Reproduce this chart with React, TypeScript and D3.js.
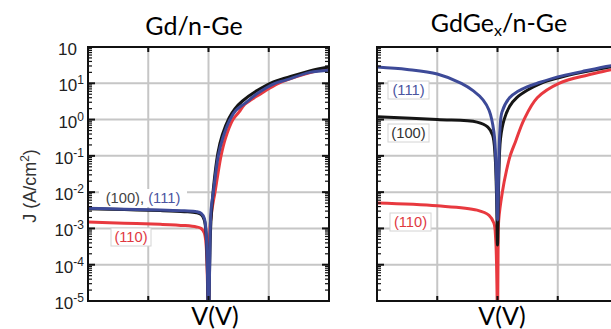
import React from 'react';
import * as d3 from 'd3';

// Left panel: Gd/n-Ge
const gdV111 = [-1, -0.7, -0.4, -0.2, -0.1, -0.06, -0.035, -0.02, -0.01, 0, 0.01, 0.021, 0.04, 0.081, 0.12, 0.178, 0.228, 0.303, 0.411, 0.552, 0.635, 0.84, 1];
const gdJ111 = [3.6e-3, 3.4e-3, 3.2e-3, 3.05e-3, 2.9e-3, 2.6e-3, 1.9e-3, 8e-4, 1e-4, 2e-6, 1e-4, 3.2e-3, 1e-2, 1e-1, 3.2e-1, 1.0, 1.8, 2.8, 5.4, 10, 12, 20, 23];
const gdV100 = [-1, -0.7, -0.4, -0.2, -0.1, -0.06, -0.035, -0.02, -0.01, 0, 0.01, 0.02, 0.04, 0.078, 0.115, 0.17, 0.22, 0.28, 0.4, 0.54, 0.64, 0.84, 1];
const gdJ100 = [3.5e-3, 3.3e-3, 3.1e-3, 2.9e-3, 2.7e-3, 2.4e-3, 1.7e-3, 7e-4, 1e-4, 2e-6, 1.2e-4, 1.5e-3, 1.2e-2, 1.2e-1, 3.8e-1, 1.1, 2.0, 3.2, 6.2, 11, 14, 22, 28];
const gdV110 = [-1, -0.7, -0.4, -0.2, -0.1, -0.06, -0.035, -0.02, -0.01, 0, 0.012, 0.03, 0.054, 0.08, 0.104, 0.14, 0.203, 0.253, 0.3, 0.444, 0.58, 0.8, 1];
const gdJ110 = [1.5e-3, 1.4e-3, 1.3e-3, 1.2e-3, 1.1e-3, 1.0e-3, 7.5e-4, 3.5e-4, 5e-5, 2e-6, 1e-3, 3.5e-3, 1e-2, 3.5e-2, 0.1, 0.3, 1.0, 1.6, 2.6, 5.4, 10, 18, 26];

// Right panel: GdGex/n-Ge
const geV111 = [-1, -0.75, -0.5, -0.3, -0.2, -0.12, -0.07, -0.03, -0.01, 0, 0.01, 0.02, 0.037, 0.1, 0.17, 0.245, 0.33, 0.5, 0.7, 0.93, 1];
const geJ111 = [28, 24, 18, 10, 6.2, 3.5, 1.8, 0.46, 0.03, 1.7e-3, 0.05, 0.5, 1.6, 4, 6, 8, 10, 15, 21, 30, 32];
const geV100 = [-1, -0.5, -0.17, -0.08, -0.04, -0.02, -0.008, 0, 0.01, 0.025, 0.055, 0.1, 0.16, 0.25, 0.36, 0.5, 0.7, 1];
const geJ100 = [1.2, 1.0, 0.85, 0.62, 0.37, 0.1, 0.008, 3.5e-4, 0.02, 0.3, 1.0, 2.3, 4, 6.5, 10, 14, 20, 31];
const geV110 = [-1, -0.5, -0.17, -0.07, -0.03, -0.015, -0.005, 0, 0.005, 0.01, 0.04, 0.075, 0.105, 0.15, 0.22, 0.33, 0.51, 0.75, 0.93, 1];
const geJ110 = [5e-3, 4.2e-3, 3.2e-3, 2.3e-3, 1.4e-3, 5e-4, 3e-5, 1e-6, 3e-4, 1.7e-3, 1e-2, 4e-2, 0.1, 0.25, 1.0, 4, 10, 17, 23, 26];

const yExps = [2, 1, 0, -1, -2, -3, -4, -5];
const ySup = ['', '1', '0', '-1', '-2', '-3', '-4', '-5'];
const xGrid = [-0.5, 0, 0.5];

const C_BLACK = '#151515';
const C_BLUE = '#3d4a98';
const C_RED = '#e8393f';

const TOP = 47;
const BOTTOM = 301;
const SANS = 'Liberation Sans, Arial, sans-serif';
const TITLE = 'Lato, Open Sans, sans-serif';

type Series = { v: number[]; j: number[]; color: string };

const Panel: React.FC<{ id: string; x0: number; x1: number; series: Series[] }> = ({ id, x0, x1, series }) => {
  const x = d3.scaleLinear().domain([-1, 1]).range([x0, x1]);
  const y = d3.scaleLog().domain([1e-5, 1e2]).range([BOTTOM, TOP]);
  const line = d3.line<[number, number]>()
    .x(d => x(d[0]))
    .y(d => y(d[1]))
    .curve(d3.curveCatmullRom.alpha(0.5));

  const minor: number[] = [];
  for (let e = -5; e < 2; e++) {
    for (let k = 2; k <= 9; k++) minor.push(k * Math.pow(10, e));
  }

  return (
    <g>
      <defs>
        <clipPath id={id}>
          <rect x={x0} y={TOP} width={x1 - x0} height={BOTTOM - TOP} />
        </clipPath>
      </defs>
      {/* grid */}
      {yExps.map(e => (
        <line key={'h' + e} x1={x0} x2={x1} y1={y(Math.pow(10, e))} y2={y(Math.pow(10, e))} stroke="#c6c6c6" strokeWidth={2} />
      ))}
      {xGrid.map(v => (
        <line key={'v' + v} x1={x(v)} x2={x(v)} y1={TOP} y2={BOTTOM} stroke="#c6c6c6" strokeWidth={2} />
      ))}
      {/* curves */}
      <g clipPath={`url(#${id})`}>
        {series.map((s, i) => (
          <path key={i} d={line(s.v.map((v, k) => [v, s.j[k]] as [number, number])) || ''}
            fill="none" stroke={s.color} strokeWidth={3} strokeLinejoin="round" />
        ))}
      </g>
      {/* ticks */}
      {minor.map((m, i) => (
        <g key={'m' + i}>
          <line x1={x0} x2={x0 + 4} y1={y(m)} y2={y(m)} stroke="#111" strokeWidth={1.2} />
          <line x1={x1} x2={x1 - 4} y1={y(m)} y2={y(m)} stroke="#111" strokeWidth={1.2} />
        </g>
      ))}
      {yExps.map(e => (
        <g key={'M' + e}>
          <line x1={x0} x2={x0 + 7} y1={y(Math.pow(10, e))} y2={y(Math.pow(10, e))} stroke="#111" strokeWidth={2} />
          <line x1={x1} x2={x1 - 7} y1={y(Math.pow(10, e))} y2={y(Math.pow(10, e))} stroke="#111" strokeWidth={2} />
        </g>
      ))}
      {xGrid.map(v => (
        <g key={'t' + v}>
          <line x1={x(v)} x2={x(v)} y1={TOP} y2={TOP + 5} stroke="#111" strokeWidth={2} />
          <line x1={x(v)} x2={x(v)} y1={BOTTOM} y2={BOTTOM - 5} stroke="#111" strokeWidth={2} />
        </g>
      ))}
      <rect x={x0} y={TOP} width={x1 - x0} height={BOTTOM - TOP} fill="none" stroke="#111" strokeWidth={2} />
    </g>
  );
};

const Tag: React.FC<{ x: number; y: number; w: number; children: React.ReactNode; border?: boolean }> = ({ x, y, w, children, border }) => (
  <g>
    <rect x={x} y={y - 9} width={w} height={18} fill="#fff" stroke={border ? '#d4d4d4' : 'none'} strokeWidth={1} />
    <text x={x + w / 2} y={y + 5} textAnchor="middle" fontFamily={SANS} fontSize={14.7}>
      {children}
    </text>
  </g>
);

const App: React.FC = () => {
  const yl = d3.scaleLog().domain([1e-5, 1e2]).range([BOTTOM, TOP]);
  return (
    <svg width={611} height={329} style={{ position: 'absolute', left: 0, top: 0, background: '#fff' }}>
      <rect width={611} height={329} fill="#fff" />
      <Panel id="clipL" x0={88} x1={329} series={[
        { v: gdV110, j: gdJ110, color: C_RED },
        { v: gdV100, j: gdJ100, color: C_BLACK },
        { v: gdV111, j: gdJ111, color: C_BLUE },
      ]} />
      <Panel id="clipR" x0={377} x1={618} series={[
        { v: geV110, j: geJ110, color: C_RED },
        { v: geV100, j: geJ100, color: C_BLACK },
        { v: geV111, j: geJ111, color: C_BLUE },
      ]} />

      {/* y tick labels */}
      {yExps.map((e, i) => {
        const yy = yl(Math.pow(10, e));
        return ySup[i] ? (
          <text key={e} x={84} y={yy + 8} textAnchor="end" fontFamily={SANS} fill="#222" fontSize={17}>
            <tspan>10</tspan><tspan dy={-7} fontSize={12}>{ySup[i]}</tspan>
          </text>
        ) : (
          <text key={e} x={77} y={yy + 8} textAnchor="end" fontFamily={SANS} fill="#222" fontSize={17}>10</text>
        );
      })}

      {/* y axis label */}
      <text transform="translate(36,186) rotate(-90)" textAnchor="middle" fontFamily={SANS} fontSize={18} fill="#333">
        <tspan>J (A/cm</tspan><tspan dy={-7} fontSize={12}>2</tspan><tspan dy={7}>)</tspan>
      </text>

      {/* titles */}
      <text x={194} y={35} textAnchor="middle" fontFamily={TITLE} fontSize={25} fill="#000">Gd/n-Ge</text>
      <text x={499} y={32} textAnchor="middle" fontFamily={TITLE} fontSize={25} fill="#000">
        <tspan>GdGe</tspan><tspan fontSize={16} dy={4}>x</tspan><tspan dy={-4}>/n-Ge</tspan>
      </text>
      <text x={215} y={325} textAnchor="middle" fontFamily={TITLE} fontSize={25} fill="#000">V(V)</text>
      <text x={502} y={325} textAnchor="middle" fontFamily={TITLE} fontSize={25} fill="#000">V(V)</text>

      {/* curve labels */}
      <Tag x={99} y={198} w={88}>
        <tspan fill="#444">(100), </tspan><tspan fill="#4b559f">(111)</tspan>
      </Tag>
      <Tag x={111} y={237} w={40} border>
        <tspan fill="#e0393f">(110)</tspan>
      </Tag>
      <Tag x={388} y={90} w={41} border>
        <tspan fill="#4b559f">(111)</tspan>
      </Tag>
      <Tag x={388} y={133} w={41} border>
        <tspan fill="#333">(100)</tspan>
      </Tag>
      <Tag x={390} y={222} w={41} border>
        <tspan fill="#e0393f">(110)</tspan>
      </Tag>
    </svg>
  );
};

export default App;
